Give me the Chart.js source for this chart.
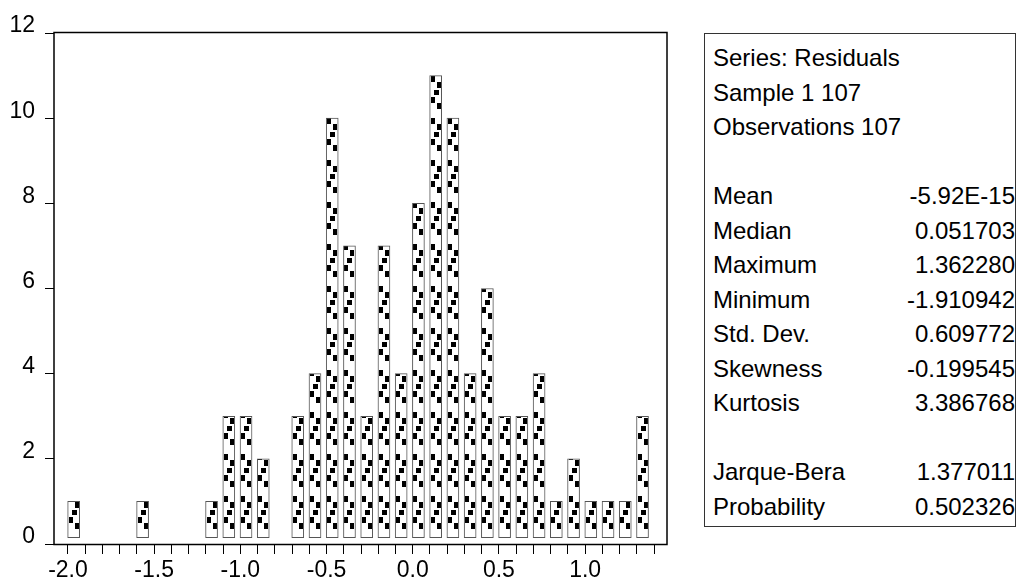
<!DOCTYPE html>
<html>
<head>
<meta charset="utf-8">
<script src="https://cdn.jsdelivr.net/npm/chart.js@4/dist/chart.umd.min.js"></script>
<style>
  html, body { margin: 0; padding: 0; background: #fff; }
  #wrap { position: relative; width: 1018px; height: 584px; }
  #chart { position: absolute; left: 0; top: 0; }
  #stats {
    position: absolute; left: 704px; top: 33px; width: 312px; height: 494px;
    box-sizing: border-box; border: 1px solid #333; background: #fff;
    font-family: "Liberation Sans", Arial, sans-serif; font-size: 24px; color: #000;
    line-height: 34.5px; padding: 7px 0 0 8px;
  }
  #stats .row { display: flex; justify-content: space-between; height: 34.5px; white-space: nowrap; }
  #stats .val { text-align: right; }
</style>
</head>
<body>
<div id="wrap">
  <canvas id="chart" width="1018" height="584"></canvas>
  <div id="stats"></div>
</div>
<script>
// ---- data ----
const binStarts = [-2.0, -1.6, -1.2, -1.1, -1.0, -0.9, -0.7, -0.6, -0.5, -0.4, -0.3, -0.2, -0.1,
                   0.0, 0.1, 0.2, 0.3, 0.4, 0.5, 0.6, 0.7, 0.8, 0.9, 1.0, 1.1, 1.2, 1.3];
const counts    = [1, 1, 1, 3, 3, 2, 3, 4, 10, 7, 3, 7, 4,
                   8, 11, 10, 4, 6, 3, 3, 4, 1, 2, 1, 1, 1, 3];
const xMinorTicks = [-2.0,-1.9,-1.8,-1.7,-1.6,-1.5,-1.4,-1.3,-1.2,-1.1,-1.0,-0.9,-0.8,-0.7,-0.6,-0.5,-0.4,-0.3,-0.2,-0.1,
                     0.0,0.1,0.2,0.3,0.4,0.5,0.6,0.7,0.8,0.9,1.0,1.1,1.2,1.3,1.4];
const xLabelTicks = [-2.0, -1.5, -1.0, -0.5, 0.0, 0.5, 1.0];
const yTicks = [0, 2, 4, 6, 8, 10, 12];

const headerLines = ['Series: Residuals', 'Sample 1 107', 'Observations 107'];
const statNames  = ['Mean', 'Median', 'Maximum', 'Minimum', 'Std. Dev.', 'Skewness', 'Kurtosis'];
const statValues = ['-5.92E-15', '0.051703', '1.362280', '-1.910942', '0.609772', '-0.199545', '3.386768'];
const testNames  = ['Jarque-Bera', 'Probability'];
const testValues = ['1.377011', '0.502326'];

// ---- style constants ----
const BAR_OFFSET = 0.033;   // bar centre offset inside its bin
const BAR_BASE = 0.15;      // bars start slightly above zero
const FONT = '"Liberation Sans", Arial, sans-serif';

// stats box
(function () {
  const box = document.getElementById('stats');
  const add = (l, v) => {
    const r = document.createElement('div'); r.className = 'row';
    const a = document.createElement('span'); a.textContent = l;
    const b = document.createElement('span'); b.className = 'val'; b.textContent = v || '';
    r.appendChild(a); r.appendChild(b); box.appendChild(r);
  };
  headerLines.forEach(h => add(h, ''));
  add('', '');
  statNames.forEach((n, i) => add(n, statValues[i]));
  add('', '');
  testNames.forEach((n, i) => add(n, testValues[i]));
})();

// bar fill tile (checker-like marks seen in the original)
const tile = document.createElement('canvas');
tile.width = 12; tile.height = 42;
(function () {
  const t = tile.getContext('2d');
  t.fillStyle = '#fff'; t.fillRect(0, 0, 12, 42);
  t.fillStyle = '#000';
  t.fillRect(1, 0, 4, 6);
  t.fillRect(7, 6, 4, 6);
  t.fillRect(1, 21, 4, 6);
  t.fillRect(7, 27, 4, 6);
  t.fillRect(4, 14, 5, 5);
})();

function barFill(ctx) {
  const chart = ctx.chart;
  if (!chart.scales || !chart.scales.x || !ctx.raw) return '#fff';
  const left = chart.scales.x.getPixelForValue(ctx.raw.x) - 6;
  const base = chart.scales.y.getPixelForValue(BAR_BASE);
  const pat = chart.ctx.createPattern(tile, 'repeat');
  if (pat.setTransform) pat.setTransform(new DOMMatrix([1, 0, 0, 1, Math.round(left), Math.round(base)]));
  return pat;
}

const framePlugin = {
  id: 'frame',
  afterDraw(chart) {
    const { ctx, chartArea: a } = chart;
    ctx.save();
    ctx.strokeStyle = '#000';
    ctx.lineWidth = 1.5;
    ctx.strokeRect(a.left, a.top - 0.5, a.right - a.left, a.bottom - a.top + 1);
    ctx.restore();
  }
};

new Chart(document.getElementById('chart'), {
  type: 'bar',
  data: {
    datasets: [{
      data: binStarts.map((s, i) => ({ x: s + BAR_OFFSET, y: counts[i] })),
      base: BAR_BASE,
      backgroundColor: barFill,
      borderColor: '#555',
      borderWidth: 1,
      borderSkipped: false,
      barThickness: 12
    }]
  },
  options: {
    responsive: false,
    animation: false,
    events: [],
    layout: { padding: { left: 0, top: 33, right: 351, bottom: 0 } },
    plugins: { legend: { display: false }, tooltip: { enabled: false } },
    scales: {
      x: {
        type: 'linear',
        offset: false,
        min: -2.081, max: 1.475,
        afterFit(s) { s.height = 40; },
        afterBuildTicks(s) { s.ticks = xMinorTicks.map(v => ({ value: v })); },
        grid: { offset: false, drawOnChartArea: false, drawTicks: true, tickLength: 10, color: '#000', lineWidth: 1 },
        border: { display: false },
        ticks: {
          autoSkip: false, maxRotation: 0, padding: 3, color: '#000',
          font: { family: FONT, size: 23 },
          callback(v) {
            const m = xLabelTicks.find(t => Math.abs(t - v) < 1e-6);
            return m === undefined ? '' : m.toFixed(1);
          }
        }
      },
      y: {
        min: 0, max: 12,
        afterFit(s) { s.width = 54; },
        afterBuildTicks(s) { s.ticks = yTicks.map(v => ({ value: v })); },
        grid: { drawOnChartArea: false, drawTicks: true, tickLength: 9, color: '#000', lineWidth: 1 },
        border: { display: false },
        ticks: {
          padding: 10, color: '#000', labelOffset: -7,
          font: { family: FONT, size: 23 }
        }
      }
    }
  },
  plugins: [framePlugin]
});
</script>
</body>
</html>
